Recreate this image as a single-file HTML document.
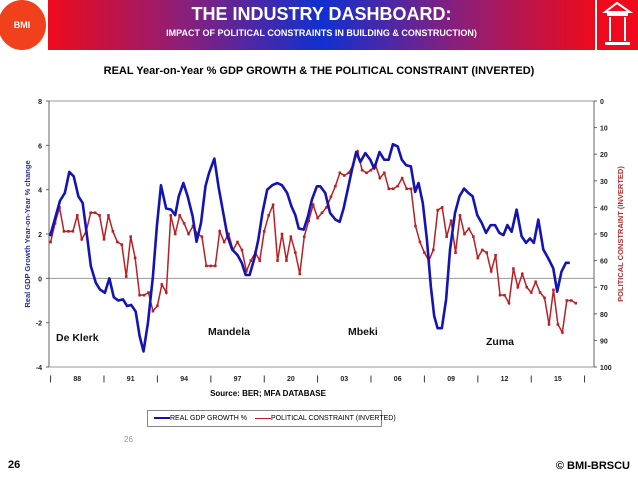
<!DOCTYPE html>
<html><head><meta charset="utf-8"><style>
body{margin:0;width:638px;height:479px;background:#fff;overflow:hidden;font-family:"Liberation Sans",Arial,sans-serif;position:relative}
.a{position:absolute}
</style></head><body>
<div class="a" style="left:-2px;top:0;width:48px;height:50px;border-radius:50%;background:#f0401c;color:#fff;font-size:9px;font-weight:bold;text-align:center;line-height:50px">BMI</div>
<div class="a" style="left:48px;top:0;width:547px;height:50px;background:linear-gradient(90deg,#ee0a1c 0%,#8a1f7a 25%,#1030d0 50%,#8a1f7a 75%,#ee0a1c 100%);color:#fff;text-align:center">
<div style="font-size:18px;font-weight:bold;margin-top:4px">THE INDUSTRY DASHBOARD:</div>
<div style="font-size:9px;font-weight:bold;margin-top:3px">IMPACT OF POLITICAL CONSTRAINTS IN BUILDING &amp; CONSTRUCTION)</div>
</div>
<div class="a" style="left:597px;top:0;width:41px;height:50px;background:#ee0a1c">
<svg width="41" height="50"><polygon points="8,12 20,3 33,12" fill="none" stroke="#fff" stroke-width="2"/><rect x="10" y="13" width="21" height="3" fill="#fff"/><rect x="12" y="17" width="2" height="24" fill="#fff"/><rect x="27" y="17" width="2" height="24" fill="#fff"/><rect x="8" y="42" width="25" height="3" fill="#fff"/></svg></div>
<div class="a" style="left:0;width:638px;top:65px;text-align:center;font-size:11px;font-weight:bold">REAL Year-on-Year % GDP GROWTH &amp; THE POLITICAL CONSTRAINT (INVERTED)</div>
<svg class="a" style="left:0;top:0" width="638" height="479" id="chart"></svg>
<div class="a" style="left:0;width:536px;top:389px;text-align:center;font-size:8px;font-weight:bold">Source: BER; MFA DATABASE</div>
<div class="a" style="left:147px;top:410px;width:233px;height:15px;border:1px solid #888;font-size:7px;line-height:15px;white-space:nowrap">
<span style="margin-left:6px"><span style="display:inline-block;width:16px;height:2px;background:#1010b0;vertical-align:middle"></span>REAL GDP GROWTH %</span>
<span style="margin-left:6px"><span style="display:inline-block;width:16px;height:1px;background:#b82025;vertical-align:middle"></span>POLITICAL CONSTRAINT (INVERTED)</span></div>
<div class="a" style="left:124px;top:435px;font-size:8px;color:#999">26</div>
<div class="a" style="left:8px;top:459px;font-size:11px;font-weight:bold">26</div>
<div class="a" style="right:8px;top:460px;font-size:11px;font-weight:bold">© BMI-BRSCU</div>
<script>
const gdpYears=[1986.47,1987.03,1987.3,1987.55,1987.8,1988.06,1988.3,1988.5,1988.76,1989.04,1989.27,1989.55,1989.8,1990.05,1990.3,1990.57,1990.8,1991.03,1991.28,1991.5,1991.72,1991.97,1992.25,1992.47,1992.7,1992.99,1993.27,1993.5,1993.7,1993.96,1994.2,1994.48,1994.7,1994.95,1995.2,1995.4,1995.7,1995.93,1996.2,1996.44,1996.7,1997.0,1997.24,1997.46,1997.68,1997.93,1998.17,1998.4,1998.67,1998.95,1999.23,1999.5,1999.79,2000.03,2000.25,2000.44,2000.72,2000.96,2001.18,2001.46,2001.65,2001.93,2002.2,2002.5,2002.74,2002.96,2003.19,2003.43,2003.67,2003.9,2004.18,2004.46,2004.68,2004.98,2005.24,2005.49,2005.73,2006.0,2006.23,2006.48,2006.74,2006.98,2007.17,2007.41,2007.64,2007.86,2008.05,2008.24,2008.48,2008.72,2008.94,2009.22,2009.47,2009.73,2009.97,2010.21,2010.47,2010.72,2010.96,2011.22,2011.47,2011.71,2011.94,2012.16,2012.4,2012.68,2012.96,2013.21,2013.43,2013.65,2013.9,2014.18,2014.46,2014.74,2014.96,2015.2,2015.45,2015.67];
const gdpValues=[1.9,3.5,3.85,4.8,4.6,3.7,3.4,2.2,0.55,-0.2,-0.5,-0.65,0,-0.85,-1.0,-0.95,-1.25,-1.2,-1.5,-2.6,-3.3,-2.0,0.1,2.35,4.2,3.15,3.1,2.85,3.7,4.3,3.7,2.8,1.65,2.5,4.15,4.75,5.4,4.15,2.95,1.9,1.3,1.05,0.7,0.15,0.15,0.85,1.75,2.95,4.0,4.2,4.3,4.2,3.85,3.25,2.85,2.25,2.2,2.8,3.55,4.15,4.15,3.85,2.95,2.65,2.55,3.15,4.0,4.9,5.7,5.25,5.65,5.35,4.95,5.7,5.35,5.35,6.05,5.95,5.35,5.1,5.05,3.9,4.3,3.4,1.75,-0.35,-1.7,-2.25,-2.25,-0.95,1.3,2.95,3.7,4.05,3.85,3.7,2.85,2.5,2.05,2.4,2.4,2.05,1.95,2.4,2.1,3.1,1.9,1.6,1.8,1.6,2.65,1.3,0.9,0.45,-0.6,0.3,0.7,0.7];
const polStart=1986.5;
const polValues=[53,46,40,49,49,49,43,52,49,42,42,43,52,43,49,53,54,66,51,59,73,73,72,79,77,69,72,43,50,43,46,50,47,50,51,62,62,62,49,53,50,56,53,56,64,60,57,60,49,43,39,60,50,60,51,57,65,51,45,39,44,42,40,36,32,27,28,27,24,19,26,27,26,24,29,27,33,33,32,29,33,33,47,53,57,60,56,41,40,51,45,57,43,50,48,51,59,56,57,64,58,73,73,76,63,70,65,70,72,68,72,74,84,71,84,87,75,75,76];
const leftTicks=[8,6,4,2,0,-2,-4];
const rightTicks=[0,10,20,30,40,50,60,70,80,90,100];
const yearLabels=["88","91","94","97","20","03","06","09","12","15"];
const yearLabelPos=[1988,1991,1994,1997,2000,2003,2006,2009,2012,2015];
const X0=49,X1=594,Y0=101,Y1=367;
const xs=y=>77.3+(y-1988)*17.8;
const yl=v=>Y0+(8-v)*(Y1-Y0)/12;
const yr=v=>Y0+v*(Y1-Y0)/100;
const svg=document.getElementById('chart');const NS='http://www.w3.org/2000/svg';
function mk(t,a,txt){const e=document.createElementNS(NS,t);for(const k in a)e.setAttribute(k,a[k]);if(txt!=null)e.textContent=txt;svg.appendChild(e);return e;}
let e=mk('rect',{x:X0,y:Y0,width:X1-X0,height:Y1-Y0,fill:'none',stroke:'#999','stroke-width':1});


e=mk('line',{x1:X0,x2:X1,y1:yl(0),y2:yl(0),stroke:'#999','stroke-width':1});


mk('line',{x1:X0,x2:X0,y1:Y0,y2:Y1,stroke:'#666'});
mk('line',{x1:X1,x2:X1,y1:Y0,y2:Y1,stroke:'#666'});
leftTicks.forEach(v=>{mk('line',{x1:X0-3,x2:X0,y1:yl(v),y2:yl(v),stroke:'#666'});
e=mk('text',{x:X0-7,y:yl(v)+3,'text-anchor':'end','font-size':7,'font-weight':'bold',fill:'#222'},v);

});
rightTicks.forEach(v=>{mk('line',{x1:X1,x2:X1+3,y1:yr(v),y2:yr(v),stroke:'#666'});
e=mk('text',{x:X1+6,y:yr(v)+3,'font-size':7,'font-weight':'bold',fill:'#222'},v);

});
yearLabels.forEach((l,i)=>{e=mk('text',{x:xs(yearLabelPos[i]),y:381,'text-anchor':'middle','font-size':7,'font-weight':'bold',fill:'#222'},l);

});
for(let i=0;i<=10;i++){mk('text',{x:xs(1986.5+3*i),y:381,'text-anchor':'middle','font-size':7,'font-weight':'bold',fill:'#222'},'|');}
e=mk('text',{x:0,y:0,transform:`translate(30,234) rotate(-90)`,'text-anchor':'middle','font-size':7.5,'font-weight':'bold',fill:'#2b2b9a'},'Real GDP Growth Year-on-Year % change');


e=mk('text',{x:0,y:0,transform:`translate(623,234) rotate(-90)`,'text-anchor':'middle','font-size':7.5,'font-weight':'bold',fill:'#b03030'},'POLITICAL CONSTRAINT (INVERTED)');


[['De Klerk',56,341,'era-de-klerk'],['Mandela',208,335,'era-mandela'],['Mbeki',348,335,'era-mbeki'],['Zuma',486,345,'era-zuma']].forEach(a=>{e=mk('text',{x:a[1],y:a[2],'font-size':10.5,'font-weight':'bold',fill:'#111'},a[0]);

});
const polPts=polValues.map((v,i)=>[xs(polStart+i*0.25),yr(v)]);
e=mk('polyline',{points:polPts.map(p=>p.join(',')).join(' '),fill:'none',stroke:'#b82025','stroke-width':1.5});


polPts.forEach(p=>{e=mk('rect',{x:p[0]-1.3,y:p[1]-1.3,width:2.6,height:2.6,fill:'#b82025'});

});
e=mk('polyline',{points:gdpYears.map((y,i)=>xs(y)+','+yl(gdpValues[i])).join(' '),fill:'none',stroke:'#1414b4','stroke-width':2.6,'stroke-linejoin':'round'});


</script>
</body></html>
